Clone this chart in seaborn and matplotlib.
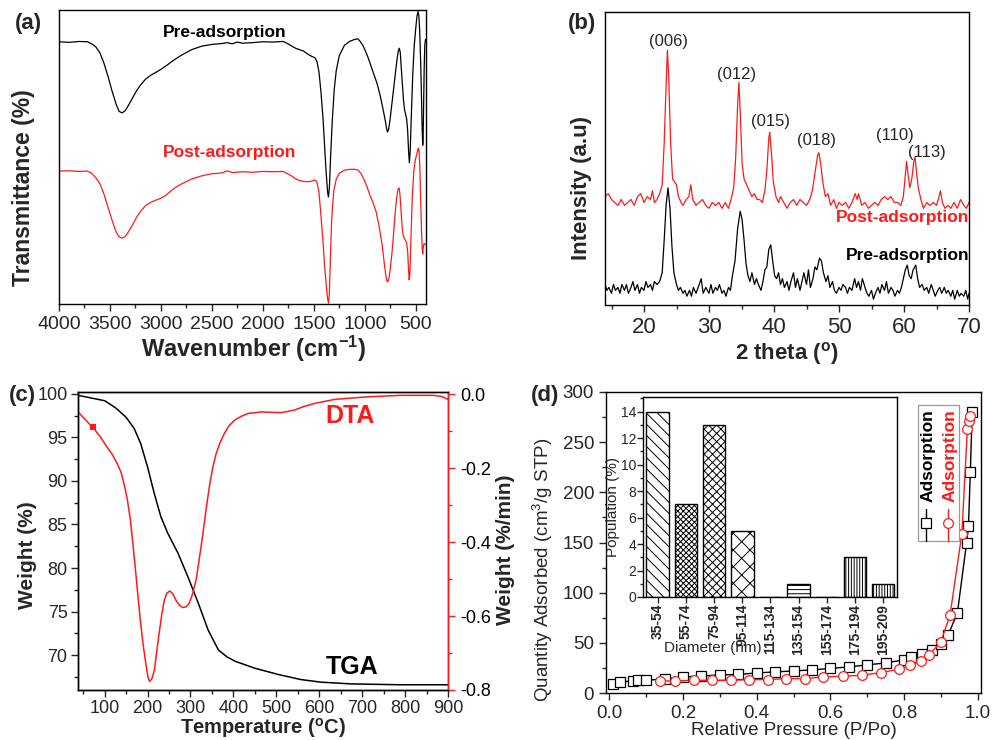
import matplotlib
matplotlib.use("Agg")
import matplotlib.pyplot as plt
from matplotlib.ticker import MultipleLocator
from matplotlib.lines import Line2D
from matplotlib.patches import Rectangle
import seaborn as sns

sns.set_style("ticks")
plt.rcParams["font.family"] = ["Liberation Sans", "DejaVu Sans"]
plt.rcParams["mathtext.fontset"] = "custom"
plt.rcParams["mathtext.rm"] = "Liberation Sans"
plt.rcParams["mathtext.bf"] = "Liberation Sans:bold"
plt.rcParams["mathtext.it"] = "Liberation Sans:italic"
plt.rcParams["axes.unicode_minus"] = False
plt.rcParams["hatch.linewidth"] = 0.7
plt.rcParams["axes.linewidth"] = 1.0
plt.rcParams["axes.edgecolor"] = "black"

RED = "#ff1a1a"

# ---------------- (a) FTIR spectra: (wavenumber, transmittance) ----------------
ftir_pre = [
    (4000, 89.2), (3900, 89.0), (3800, 89.3), (3720, 89.2), (3680, 88.5), (3640, 87.5),
    (3600, 85.5), (3560, 82.0), (3520, 77.5), (3480, 72.5), (3440, 68.0), (3410, 65.5),
    (3380, 65.0), (3350, 65.8), (3320, 67.5), (3280, 70.0), (3240, 72.5), (3200, 74.5),
    (3150, 76.5), (3100, 77.8), (3050, 78.8), (3000, 79.8), (2950, 81.0), (2900, 82.3),
    (2850, 83.5), (2800, 84.6), (2700, 86.5), (2600, 87.7), (2500, 88.3), (2400, 88.6),
    (2350, 88.9), (2300, 88.5), (2250, 89.1), (2200, 88.7), (2100, 88.9), (2000, 89.2),
    (1900, 89.1), (1800, 89.3), (1760, 88.6), (1720, 87.8), (1680, 87.0), (1640, 86.5),
    (1600, 86.0), (1560, 85.0), (1520, 84.2), (1490, 83.8), (1470, 82.5), (1450, 79.0),
    (1430, 72.0), (1410, 63.0), (1395, 54.0), (1380, 45.0), (1365, 38.0), (1357, 36.4),
    (1347, 40.0), (1336, 50.0), (1320, 62.0), (1300, 73.0), (1280, 79.5), (1250, 84.5),
    (1200, 88.0), (1150, 89.3), (1100, 90.0), (1070, 90.2), (1050, 89.5), (1020, 88.0),
    (1000, 86.5), (970, 84.0), (940, 81.0), (910, 78.0), (880, 75.0), (850, 71.0),
    (820, 66.0), (800, 62.5), (788, 60.0), (778, 58.5), (766, 59.5), (750, 63.5),
    (730, 69.5), (715, 74.0), (700, 78.5), (685, 83.0), (672, 86.0), (662, 87.0),
    (652, 85.5), (642, 80.0), (630, 74.0), (620, 69.0), (610, 66.0), (600, 64.5),
    (590, 63.0), (580, 59.0), (571, 52.0), (563, 48.0), (555, 52.0), (545, 63.0),
    (530, 78.0), (515, 88.0), (500, 94.0), (488, 98.0), (478, 99.5), (470, 98.0),
    (462, 93.0), (452, 82.0), (444, 70.0), (438, 60.0), (432, 54.0), (428, 57.0),
    (424, 66.0), (418, 80.0), (412, 88.0), (405, 90.0), (400, 89.5),
]
ftir_post = [
    (4000, 45.2), (3900, 45.3), (3800, 45.1), (3720, 45.2), (3680, 44.5), (3640, 43.0),
    (3600, 41.0), (3560, 37.5), (3520, 33.0), (3480, 28.5), (3440, 24.5), (3410, 22.8),
    (3380, 22.4), (3350, 23.0), (3320, 24.5), (3280, 26.8), (3240, 29.5), (3200, 31.5),
    (3150, 33.5), (3100, 34.6), (3050, 35.3), (3000, 36.0), (2950, 37.0), (2900, 38.5),
    (2850, 39.8), (2800, 40.8), (2700, 42.5), (2600, 43.6), (2500, 44.3), (2400, 44.6),
    (2350, 45.3), (2300, 44.7), (2200, 45.0), (2100, 44.8), (2000, 45.1), (1900, 45.0),
    (1800, 45.1), (1760, 44.3), (1720, 43.6), (1680, 42.6), (1640, 42.0), (1600, 41.7),
    (1560, 41.6), (1520, 41.8), (1490, 42.2), (1470, 41.5), (1450, 38.0), (1430, 30.0),
    (1410, 21.0), (1395, 13.0), (1380, 7.0), (1366, 2.0), (1357, 0.3), (1349, 3.0),
    (1338, 15.0), (1325, 29.0), (1305, 38.5), (1280, 42.5), (1250, 44.5), (1200, 45.5),
    (1150, 45.8), (1100, 45.8), (1070, 45.6), (1040, 44.5), (1010, 42.5), (980, 40.0),
    (950, 37.0), (920, 34.5), (890, 31.5), (860, 26.5), (830, 20.0), (810, 14.0),
    (795, 10.0), (785, 8.0), (775, 7.5), (765, 8.5), (750, 12.0), (735, 17.0),
    (720, 23.0), (705, 30.0), (690, 35.5), (675, 39.0), (663, 39.5), (655, 37.0),
    (645, 32.0), (635, 26.5), (625, 23.5), (612, 22.3), (600, 21.5), (590, 20.8),
    (580, 18.0), (572, 12.0), (565, 8.2), (558, 10.0), (548, 22.0), (535, 36.0),
    (520, 45.0), (505, 49.0), (490, 51.0), (480, 52.5), (474, 53.0), (468, 52.0),
    (460, 46.0), (452, 35.0), (444, 25.0), (437, 18.5), (432, 17.0), (428, 19.0),
    (420, 20.5), (410, 20.2), (400, 20.5),
]

# ---------------- (b) XRD patterns: (2 theta, intensity) ----------------
xrd_post = [
    (14.0, 37), (14.5, 38), (15.0, 36), (15.5, 35), (16.0, 34), (16.5, 36), (17.0, 34),
    (17.5, 35), (18.0, 36), (18.5, 34), (19.0, 37), (19.5, 38), (20.0, 35), (20.5, 37),
    (21.0, 36), (21.3, 39), (21.6, 35), (22.0, 36), (22.4, 38), (22.8, 41), (23.1, 55),
    (23.4, 75), (23.6, 87), (23.8, 78), (24.1, 55), (24.4, 43), (24.7, 42), (25.0, 41),
    (25.3, 37), (25.7, 35), (26.0, 34), (26.5, 36), (26.9, 37), (27.2, 41), (27.5, 36),
    (28.0, 34), (28.5, 35), (29.0, 36), (29.5, 34), (30.0, 33), (30.5, 35), (31.0, 34),
    (31.5, 35), (32.0, 33), (32.5, 35), (33.0, 33), (33.5, 37), (33.8, 40), (34.1, 50),
    (34.4, 68), (34.6, 76), (34.8, 66), (35.1, 48), (35.4, 43), (35.8, 41), (36.2, 39),
    (36.6, 37), (37.0, 38), (37.4, 36), (37.8, 36), (38.2, 35), (38.6, 39), (38.9, 46),
    (39.2, 57), (39.35, 59), (39.6, 52), (39.9, 42), (40.3, 37), (40.7, 35), (41.0, 37),
    (41.5, 35), (42.0, 33), (42.5, 35), (43.0, 36), (43.5, 34), (44.0, 36), (44.5, 35),
    (45.0, 34), (45.5, 36), (45.9, 39), (46.3, 45), (46.7, 51), (46.9, 52), (47.2, 48),
    (47.5, 42), (47.9, 37), (48.3, 38), (48.7, 34), (49.2, 36), (49.6, 33), (50.0, 35),
    (50.5, 34), (51.0, 35), (51.5, 33), (52.0, 35), (52.5, 38), (52.8, 36), (53.0, 38),
    (53.5, 34), (54.0, 35), (54.5, 33), (55.0, 34), (55.5, 35), (56.0, 34), (56.5, 36),
    (57.0, 37), (57.5, 36), (58.0, 37), (58.5, 35), (59.0, 35), (59.5, 34), (59.9, 37),
    (60.2, 44), (60.4, 49), (60.6, 45), (60.9, 40), (61.2, 43), (61.5, 49), (61.7, 50.5),
    (61.9, 46), (62.2, 40), (62.6, 36), (63.0, 33), (63.5, 35), (64.0, 34), (64.5, 35),
    (65.0, 34), (65.4, 37), (65.6, 39), (65.9, 35), (66.3, 33), (66.8, 34), (67.2, 33),
    (67.7, 35), (68.2, 33), (68.7, 36), (69.2, 34), (69.6, 33), (70.0, 35),
]
xrd_pre = [
    (14.0, 7), (14.3, 5), (14.6, 6), (15.0, 4), (15.3, 7), (15.6, 5), (16.0, 6), (16.3, 4),
    (16.6, 7), (17.0, 5), (17.3, 7), (17.6, 4), (18.0, 6), (18.3, 8), (18.6, 5), (19.0, 7),
    (19.3, 4), (19.6, 6), (20.0, 5), (20.3, 8), (20.6, 6), (21.0, 7), (21.3, 5), (21.6, 8),
    (22.0, 7), (22.4, 8), (22.8, 11), (23.1, 22), (23.4, 34), (23.7, 40), (24.0, 33),
    (24.3, 20), (24.6, 11), (25.0, 7), (25.3, 5), (25.6, 6), (26.0, 4), (26.3, 5), (26.6, 3),
    (27.0, 5), (27.3, 3), (27.6, 6), (28.0, 4), (28.5, 7), (28.8, 9), (29.1, 4), (29.5, 6),
    (30.0, 4), (30.3, 7), (30.6, 4), (31.0, 6), (31.3, 5), (31.6, 7), (32.0, 4), (32.3, 5),
    (32.6, 3), (33.0, 6), (33.3, 5), (33.6, 10), (34.0, 15), (34.4, 26), (34.8, 32),
    (35.1, 29), (35.4, 22), (35.7, 14), (36.0, 10), (36.3, 8), (36.6, 11), (37.0, 7),
    (37.3, 9), (37.6, 7), (38.0, 5), (38.3, 8), (38.6, 12), (38.9, 13), (39.2, 19),
    (39.5, 20.5), (39.8, 15), (40.1, 10), (40.4, 9), (40.7, 11), (41.0, 7), (41.3, 9),
    (41.6, 6), (42.0, 8), (42.3, 5), (42.6, 8), (43.0, 11), (43.3, 6), (43.6, 9), (44.0, 5),
    (44.3, 8), (44.6, 11), (45.0, 7), (45.3, 12), (45.6, 6), (46.0, 9), (46.3, 13),
    (46.6, 12), (47.0, 16), (47.3, 15), (47.6, 11), (48.0, 8), (48.3, 10), (48.6, 6),
    (49.0, 8), (49.3, 5), (49.6, 4), (50.0, 6), (50.3, 5), (50.6, 7), (51.0, 6), (51.3, 4),
    (51.6, 6), (52.0, 5), (52.4, 9), (52.7, 6), (53.0, 8), (53.3, 5), (53.6, 9), (54.0, 6),
    (54.3, 4), (54.6, 3), (55.0, 5), (55.3, 2), (55.6, 4), (56.0, 6), (56.3, 4), (56.6, 7),
    (57.0, 5), (57.3, 8), (57.6, 4), (58.0, 6), (58.3, 5), (58.6, 3), (59.0, 5), (59.3, 4),
    (59.6, 6), (59.9, 9), (60.2, 12), (60.5, 13.6), (60.8, 10), (61.1, 9), (61.4, 12),
    (61.8, 13.6), (62.1, 9), (62.4, 6), (62.8, 7), (63.1, 5), (63.5, 6), (63.8, 4),
    (64.2, 7), (64.5, 5), (64.8, 3), (65.2, 5), (65.5, 6), (65.8, 4), (66.2, 6), (66.5, 4),
    (66.8, 5), (67.2, 3), (67.5, 5), (67.8, 2), (68.2, 5), (68.5, 3), (68.8, 4), (69.2, 3),
    (69.5, 5), (69.8, 2), (70.0, 4),
]
hkl_labels = ["(006)", "(012)", "(015)", "(018)", "(110)", "(113)"]
hkl_x = [23.8, 34.3, 39.4, 46.6, 58.6, 63.5]
hkl_y = [89.8, 78.8, 62.5, 56.0, 58.0, 52.2]

# ---------------- (c) TGA / DTA: (temperature, value) ----------------
tga = [
    (40, 99.8), (70, 99.5), (100, 99.2), (125, 98.4), (150, 97.3), (169, 96.0),
    (184, 94.3), (200, 91.6), (216, 88.5), (231, 85.9), (247, 84.0), (271, 81.7),
    (294, 79.0), (318, 76.0), (341, 72.9), (365, 70.6), (385, 69.8), (404, 69.3),
    (450, 68.5), (503, 67.8), (557, 67.2), (604, 66.9), (674, 66.7), (790, 66.6),
    (900, 66.6),
]
dta = [
    (40, -0.050), (60, -0.075), (73, -0.090), (90, -0.115), (105, -0.142), (118, -0.163),
    (129, -0.187), (138, -0.210), (145, -0.241), (153, -0.285), (160, -0.340),
    (166, -0.405), (172, -0.476), (178, -0.550), (184, -0.620), (190, -0.680),
    (196, -0.728), (201, -0.765), (205, -0.777), (210, -0.770), (216, -0.746),
    (221, -0.700), (227, -0.647), (233, -0.597), (239, -0.557), (245, -0.538),
    (252, -0.532), (259, -0.540), (266, -0.557), (274, -0.570), (282, -0.577),
    (290, -0.575), (297, -0.566), (305, -0.540), (313, -0.503), (320, -0.450),
    (328, -0.386), (336, -0.315), (344, -0.250), (352, -0.198), (360, -0.160),
    (370, -0.128), (379, -0.106), (390, -0.085), (403, -0.070), (418, -0.060),
    (434, -0.052), (465, -0.048), (511, -0.050), (542, -0.043), (565, -0.033),
    (589, -0.025), (636, -0.014), (713, -0.007), (790, -0.003), (866, -0.003),
    (885, -0.006), (900, -0.014),
]
dta_point_T = [73]
dta_point_w = [-0.090]

# ---------------- (d) N2 adsorption isotherms: (P/Po, quantity) ----------------
iso_black = [
    (0.009, 8.7), (0.029, 11.0), (0.063, 12.0), (0.079, 12.7), (0.099, 12.7),
    (0.150, 14.0), (0.200, 16.0), (0.250, 17.0), (0.300, 18.0), (0.350, 18.5),
    (0.400, 20.0), (0.450, 21.0), (0.500, 22.0), (0.550, 23.0), (0.600, 24.5),
    (0.650, 26.0), (0.700, 28.0), (0.750, 30.0), (0.800, 33.0), (0.820, 36.0),
    (0.850, 39.0), (0.875, 43.0), (0.900, 49.0), (0.920, 58.0), (0.945, 80.0),
    (0.970, 150.0), (0.975, 166.0), (0.980, 220.0), (0.985, 280.0),
]
iso_red = [
    (0.138, 12.0), (0.178, 12.0), (0.231, 12.7), (0.280, 12.7), (0.330, 12.7),
    (0.380, 13.3), (0.430, 13.3), (0.480, 14.3), (0.530, 14.3), (0.580, 16.0),
    (0.634, 16.7), (0.685, 17.7), (0.737, 20.3), (0.787, 23.7), (0.816, 27.7),
    (0.845, 31.7), (0.868, 37.7), (0.900, 51.0), (0.925, 77.7), (0.957, 158.7),
    (0.972, 262.7), (0.976, 271.0), (0.979, 276.0),
]

# inset: pore diameter distribution
diam_bins = ["35-54", "55-74", "75-94", "95-114", "115-134",
             "135-154", "155-174", "175-194", "195-209"]
population = [14, 7, 13, 5, 0, 1, 0, 3, 1]
bin_hatches = ["\\\\\\", "xxxxxx", "xxxx", "xx", "", "----", "", "||||||", "||||||"]


def unzip(pairs):
    return [p[0] for p in pairs], [p[1] for p in pairs]


W, H = 997, 740


def rect(l, t, r, b):
    return [l / W, 1 - b / H, (r - l) / W, (b - t) / H]


fig = plt.figure(figsize=(W / 100, H / 100), dpi=100)
fig.patch.set_facecolor("white")

# ======================= (a) =======================
ax_a = fig.add_axes(rect(59, 10, 426, 304))
x, y = unzip(ftir_pre)
sns.lineplot(x=x, y=y, ax=ax_a, color="black", lw=0.9, sort=False, estimator=None)
x, y = unzip(ftir_post)
sns.lineplot(x=x, y=y, ax=ax_a, color=RED, lw=0.9, sort=False, estimator=None)
ax_a.set_xlim(4000, 400)
ax_a.set_ylim(0, 100)
ax_a.set_yticks([])
ax_a.xaxis.set_major_locator(MultipleLocator(500))
ax_a.xaxis.set_minor_locator(MultipleLocator(250))
ax_a.tick_params(axis="x", which="major", direction="out", length=5, width=1, labelsize=14)
ax_a.tick_params(axis="x", which="minor", direction="out", length=3, width=1)
ax_a.set_xlabel(r"Wavenumber (cm$\mathbf{^{-1}}$)", fontsize=17, fontweight="bold")
ax_a.xaxis.set_label_coords(0.53, -0.10)
ax_a.set_ylabel("Transmittance (%)", fontsize=16.5, fontweight="bold")
ax_a.yaxis.set_label_coords(-0.065, 0.395)
ax_a.text(2373, 92.5, "Pre-adsorption", fontsize=12.5, fontweight="bold",
          color="black", ha="center", va="center")
ax_a.text(2324, 51.4, "Post-adsorption", fontsize=12.5, fontweight="bold",
          color=RED, ha="center", va="center")
fig.text(28 / W, 1 - 24 / H, "(a)", fontsize=16, fontweight="bold", ha="center", va="center")

# ======================= (b) =======================
ax_b = fig.add_axes(rect(605, 12, 969, 305))
x, y = unzip(xrd_post)
sns.lineplot(x=x, y=y, ax=ax_b, color=RED, lw=0.9, sort=False, estimator=None)
x, y = unzip(xrd_pre)
sns.lineplot(x=x, y=y, ax=ax_b, color="black", lw=0.9, sort=False, estimator=None)
ax_b.set_xlim(14, 70)
ax_b.set_ylim(0, 100)
ax_b.set_yticks([])
ax_b.xaxis.set_major_locator(MultipleLocator(10))
ax_b.xaxis.set_minor_locator(MultipleLocator(5))
ax_b.tick_params(axis="x", which="major", direction="out", length=5, width=1, labelsize=16)
ax_b.tick_params(axis="x", which="minor", direction="out", length=3, width=1)
ax_b.set_xlabel(r"2 theta ($\mathbf{^{o}}$)", fontsize=16, fontweight="bold")
ax_b.xaxis.set_label_coords(0.5, -0.12)
ax_b.set_ylabel("Intensity (a.u)", fontsize=16, fontweight="bold")
ax_b.yaxis.set_label_coords(-0.035, 0.40)
for lab, hx, hy in zip(hkl_labels, hkl_x, hkl_y):
    ax_b.text(hx, hy, lab, fontsize=12, ha="center", va="center")
ax_b.text(70, 30, "Post-adsorption", fontsize=12.5, fontweight="bold", color=RED,
          ha="right", va="center")
ax_b.text(70, 17, "Pre-adsorption", fontsize=12.5, fontweight="bold", color="black",
          ha="right", va="center")
fig.text(582 / W, 1 - 23 / H, "(b)", fontsize=16, fontweight="bold", ha="center", va="center")

# ======================= (c) =======================
ax_c = fig.add_axes(rect(78, 392, 448, 690))
x, y = unzip(tga)
sns.lineplot(x=x, y=y, ax=ax_c, color="black", lw=1.1, sort=False, estimator=None)
ax_c.set_xlim(38, 900)
ax_c.set_ylim(66, 100.2)
ax_c.xaxis.set_major_locator(MultipleLocator(100))
ax_c.xaxis.set_minor_locator(MultipleLocator(50))
ax_c.yaxis.set_major_locator(MultipleLocator(5))
ax_c.yaxis.set_minor_locator(MultipleLocator(2.5))
ax_c.tick_params(which="major", direction="out", length=5, width=1, labelsize=13, pad=2.5)
ax_c.tick_params(which="minor", direction="out", length=3, width=1)
ax_c.set_xlabel(r"Temperature ($\mathbf{^{o}}$C)", fontsize=14.5, fontweight="bold")
ax_c.xaxis.set_label_coords(0.5, -0.088)
ax_c.set_ylabel("Weight (%)", fontsize=15, fontweight="bold")
ax_c.yaxis.set_label_coords(-0.11, 0.453)

ax_c2 = ax_c.twinx()
x, y = unzip(dta)
sns.lineplot(x=x, y=y, ax=ax_c2, color=RED, lw=1.1, sort=False, estimator=None)
sns.scatterplot(x=dta_point_T, y=dta_point_w, ax=ax_c2, color=RED, marker="s",
                s=18, edgecolor=RED, linewidth=0)
ax_c2.set_ylim(-0.8, 0.006)
ax_c2.yaxis.set_major_locator(MultipleLocator(0.2))
ax_c2.yaxis.set_minor_locator(MultipleLocator(0.1))
ax_c2.tick_params(which="major", direction="out", length=5, width=1, labelsize=13,
                  color=RED, labelcolor="black")
ax_c2.tick_params(which="minor", direction="out", length=3, width=1, color=RED)
ax_c2.spines["right"].set_color(RED)
ax_c2.set_ylabel("Weight (%/min)", fontsize=15, fontweight="bold")
ax_c2.yaxis.set_label_coords(1.13, 0.47)
ax_c.text(672, 97.5, "DTA", fontsize=18, fontweight="bold", color=RED, ha="center", va="center")
ax_c.text(677, 68.6, "TGA", fontsize=18, fontweight="bold", color="black", ha="center", va="center")
fig.text(22 / W, 1 - 395 / H, "(c)", fontsize=16, fontweight="bold", ha="center", va="center")

# ======================= (d) =======================
ax_d = fig.add_axes(rect(606, 392, 981, 693))
x, y = unzip(iso_black)
sns.lineplot(x=x, y=y, ax=ax_d, color="black", lw=1.0, marker="s", markersize=6.5,
             markerfacecolor="white", markeredgecolor="black", markeredgewidth=0.9,
             sort=False, estimator=None)
x, y = unzip(iso_red)
sns.lineplot(x=x, y=y, ax=ax_d, color=RED, lw=1.0, marker="o", markersize=7,
             markerfacecolor="white", markeredgecolor=RED, markeredgewidth=0.9,
             sort=False, estimator=None)
ax_d.set_xlim(-0.009, 1.009)
ax_d.set_ylim(0, 300)
ax_d.xaxis.set_major_locator(MultipleLocator(0.2))
ax_d.xaxis.set_minor_locator(MultipleLocator(0.1))
ax_d.yaxis.set_major_locator(MultipleLocator(50))
ax_d.yaxis.set_minor_locator(MultipleLocator(25))
ax_d.tick_params(which="major", direction="out", length=5, width=1, labelsize=13.5)
ax_d.tick_params(which="minor", direction="out", length=3, width=1)
ax_d.set_xlabel("Relative Pressure (P/Po)", fontsize=13.5)
ax_d.xaxis.set_label_coords(0.5, -0.095)
ax_d.set_ylabel(r"Quantity Adsorbed (cm$^{3}$/g STP)", fontsize=13.5)
ax_d.yaxis.set_label_coords(-0.136, 0.409)
fig.text(545 / W, 1 - 395 / H, "(d)", fontsize=16, fontweight="bold", ha="center", va="center")

# rotated legend box
ax_d.add_patch(Rectangle((0.831, 0.506), 0.111, 0.451, transform=ax_d.transAxes,
                         facecolor="white", edgecolor="#999999", lw=0.9, zorder=5))
for xc, col, mk in [(0.853, "black", "s"), (0.911, RED, "o")]:
    ax_d.add_line(Line2D([xc, xc], [0.506, 0.610], transform=ax_d.transAxes, color=col,
                         lw=1.0, marker=None, zorder=6))
    ax_d.add_line(Line2D([xc], [0.564], transform=ax_d.transAxes, color=col, lw=0,
                         marker=mk, markersize=7, markerfacecolor="white",
                         markeredgecolor=col, markeredgewidth=0.9, zorder=7))
    ax_d.text(xc + 0.006, 0.79, "Adsorption", transform=ax_d.transAxes, rotation=90,
              fontsize=12.5, fontweight="bold", color=col, ha="center", va="center", zorder=7)

# inset histogram
ax_in = fig.add_axes(rect(643, 397, 897, 597))
ax_in.set_facecolor("white")
sns.barplot(x=diam_bins, y=population, ax=ax_in, color="white", edgecolor="black",
            linewidth=1.0, width=0.8, saturation=1)
for bar, h in zip(ax_in.patches, bin_hatches):
    bar.set_hatch(h)
    bar.set_facecolor("white")
    bar.set_edgecolor("black")
ax_in.set_xlim(-0.52, 8.49)
ax_in.set_ylim(0, 15.1)
ax_in.yaxis.set_major_locator(MultipleLocator(2))
ax_in.yaxis.set_minor_locator(MultipleLocator(1))
ax_in.tick_params(axis="y", which="major", direction="out", length=4, width=1, labelsize=10, pad=1)
ax_in.tick_params(axis="y", which="minor", direction="out", length=2, width=1)
ax_in.tick_params(axis="x", which="major", direction="out", length=4, width=1, labelsize=10, pad=1)
for lab in ax_in.get_xticklabels():
    lab.set_rotation(90)
    lab.set_fontweight("bold")
ax_in.set_xlabel("")
ax_in.set_ylabel("")
ax_in.text(0.276, -0.255, "Diameter (nm)", transform=ax_in.transAxes, fontsize=11,
           ha="center", va="center")
ax_in.text(-0.118, 0.45, "Population (%)", transform=ax_in.transAxes, fontsize=11,
           rotation=90, ha="center", va="center")
for sp in ax_in.spines.values():
    sp.set_visible(True)
    sp.set_color("black")
    sp.set_linewidth(1.0)

for ax in (ax_a, ax_b, ax_c, ax_d):
    for sp in ax.spines.values():
        sp.set_visible(True)
        sp.set_linewidth(1.0)
ax_c2.spines["right"].set_color(RED)

fig.savefig("out.png", dpi=100, facecolor="white")
